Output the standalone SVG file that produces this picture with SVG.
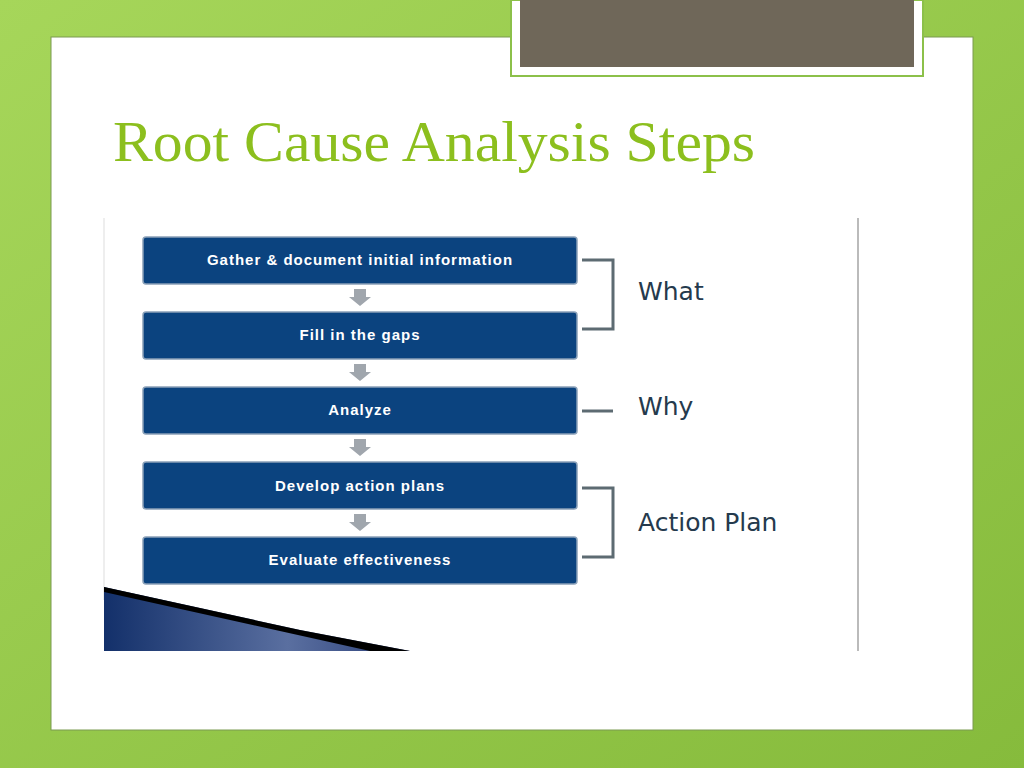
<svg xmlns="http://www.w3.org/2000/svg" width="1024" height="768" viewBox="0 0 1024 768">
<defs>
<linearGradient id="bg" x1="0" y1="0" x2="1" y2="1"><stop offset="0" stop-color="#a6d65a"/><stop offset="1" stop-color="#86bb3c"/></linearGradient>
<linearGradient id="sw" x1="0" y1="0" x2="1" y2="0"><stop offset="0" stop-color="#13306a"/><stop offset="0.6" stop-color="#5a6fa0"/><stop offset="1" stop-color="#2b3f78"/></linearGradient>
<style>
.box{fill:#0b437f;stroke:#8aa0b8;stroke-width:1.5}
.bt{font-family:"Liberation Sans",Arial,sans-serif;font-weight:bold;font-size:15px;fill:#fff;text-anchor:middle;letter-spacing:1px}
.lab{font-family:"DejaVu Sans",sans-serif;font-size:25px;fill:#253a4d}
.br{fill:none;stroke:#5d6b72;stroke-width:3}
.ar{fill:#a0a6ad}
</style>
</defs>
<rect width="1024" height="768" fill="url(#bg)"/>
<rect x="51" y="37" width="922" height="693" fill="#fff" stroke="#7a9a50"/>
<rect x="511" y="0" width="412" height="76" fill="#fff" stroke="#8cc04a" stroke-width="2"/>
<rect x="520" y="0" width="394" height="67" fill="#6f6759"/>
<text x="113" y="161" font-family="Liberation Serif,serif" font-size="56" fill="#8cbf1e" textLength="642" lengthAdjust="spacingAndGlyphs">Root Cause Analysis Steps</text>
<rect x="104" y="218" width="755" height="433" fill="#fff"/>
<line x1="104" y1="218" x2="104" y2="600" stroke="#ddd" stroke-width="1"/>
<line x1="858" y1="218" x2="858" y2="651" stroke="#bbb" stroke-width="2"/>
<polygon points="104,587 104,651 410,651 300,630" fill="url(#sw)"/>
<polygon points="104,587 300,630 410,651 370,651 104,592" fill="#000"/>
<g id="connectors">
<polygon class="ar" points="354,289 366,289 366,297 371,297 360,306 349,297 354,297"/>
<polygon class="ar" points="354,364 366,364 366,372 371,372 360,381 349,372 354,372"/>
<polygon class="ar" points="354,439 366,439 366,447 371,447 360,456 349,447 354,447"/>
<polygon class="ar" points="354,514 366,514 366,522 371,522 360,531 349,522 354,522"/>
<path class="br" d="M582,260 H613 V329 H582"/>
<path class="br" d="M582,411 H613"/>
<path class="br" d="M582,488 H613 V557 H582"/>
</g>
<g id="n1"><rect class="box" x="143" y="237" width="434" height="47" rx="3"/><text class="bt" x="360" y="265">Gather &amp; document initial information</text></g>
<g id="n2"><rect class="box" x="143" y="312" width="434" height="47" rx="3"/><text class="bt" x="360" y="340">Fill in the gaps</text></g>
<g id="n3"><rect class="box" x="143" y="387" width="434" height="47" rx="3"/><text class="bt" x="360" y="415">Analyze</text></g>
<g id="n4"><rect class="box" x="143" y="462" width="434" height="47" rx="3"/><text class="bt" x="360" y="491">Develop action plans</text></g>
<g id="n5"><rect class="box" x="143" y="537" width="434" height="47" rx="3"/><text class="bt" x="360" y="565">Evaluate effectiveness</text></g>
<text class="lab" x="638" y="300">What</text>
<text class="lab" x="638" y="415">Why</text>
<text class="lab" x="638" y="531">Action Plan</text>
</svg>
